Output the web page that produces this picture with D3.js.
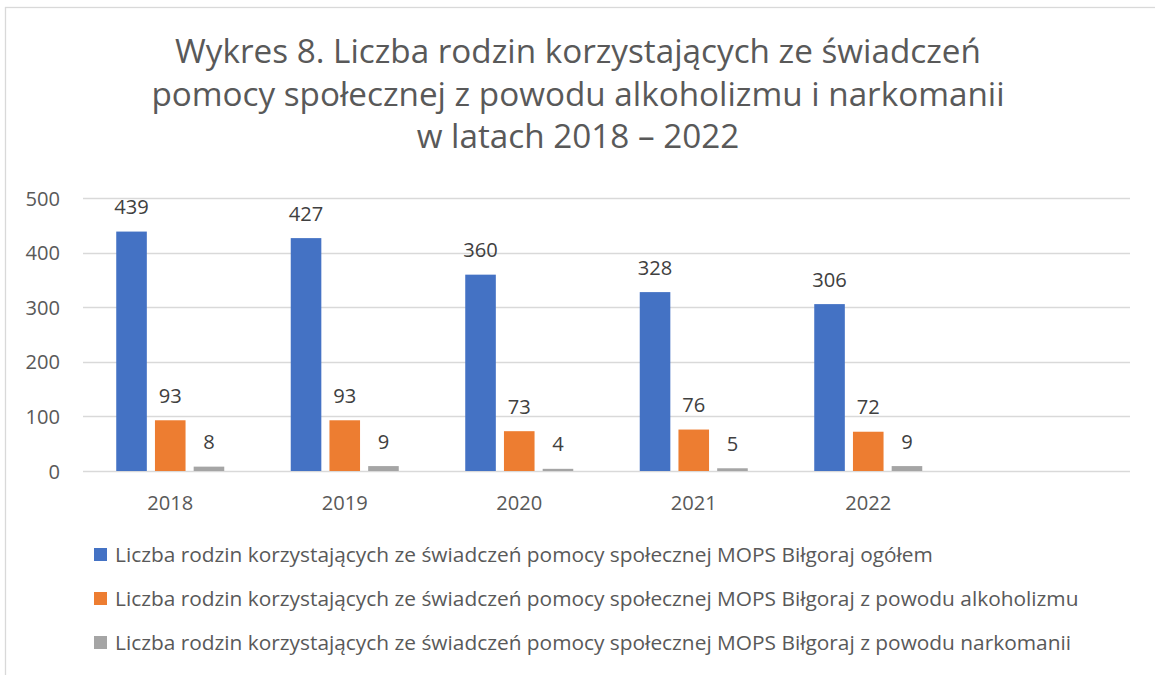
<!DOCTYPE html>
<html><head><meta charset="utf-8">
<script src="https://cdn.jsdelivr.net/npm/d3@7"></script>
<style>
html,body{margin:0;padding:0;background:#fff;}
svg{display:block;}
text{font-family:"Open Sans","Noto Sans",sans-serif;}
</style></head>
<body>
<svg id="chart" width="1155" height="675"></svg>
<script>
const titleLines = ["Wykres 8. Liczba rodzin korzystających ze świadczeń",
  "pomocy społecznej z powodu alkoholizmu i narkomanii",
  "w latach 2018 – 2022"];
const categories = ["2018","2019","2020","2021","2022",""];
const seriesNames = [
  "Liczba rodzin korzystających ze świadczeń pomocy społecznej MOPS Biłgoraj ogółem",
  "Liczba rodzin korzystających ze świadczeń pomocy społecznej MOPS Biłgoraj z powodu alkoholizmu",
  "Liczba rodzin korzystających ze świadczeń pomocy społecznej MOPS Biłgoraj z powodu narkomanii"];
const ogolem = [439,427,360,328,306];
const alkoholizm = [93,93,73,76,72];
const narkomania = [8,9,4,5,9];
const yTicks = [0,100,200,300,400,500];
const colors = ["#4472C4","#ED7D31","#A5A5A5"];

const seriesValues = [ogolem, alkoholizm, narkomania];
const svg = d3.select("#chart");

svg.append("rect").attr("x",5.5).attr("y",7.5).attr("width",1160).attr("height",680)
  .attr("fill","none").attr("stroke","#d9d9d9").attr("stroke-width",1.3);

function fitSize(str, base, target){
  const p = svg.append("text").attr("font-size",base).text(str);
  const w = p.node().getComputedTextLength();
  p.remove();
  return base * target / w;
}
const titleSize = fitSize(titleLines[0], 31, 806);
const legendSize = fitSize(seriesNames[0], 18.5, 818);
const labelSize = fitSize("2018", 18.5, 46);

svg.append("g").selectAll("text").data(titleLines).join("text")
  .attr("x",578).attr("y",(d,i)=>63+i*42.5)
  .attr("text-anchor","middle").attr("font-size",titleSize).attr("fill","#595959")
  .text(d=>d);

const x0 = d3.scaleBand().domain(categories).range([83,1130]);
const y = d3.scaleLinear().domain([0,500]).range([471,198.3]);

svg.append("g").selectAll("line").data(yTicks).join("line")
  .attr("x1",83).attr("x2",1130).attr("y1",d=>Math.round(y(d))+0.5).attr("y2",d=>Math.round(y(d))+0.5)
  .attr("stroke","#d9d9d9").attr("stroke-width",1.3);

const yAxis = svg.append("g").attr("transform","translate(60,0)")
  .call(d3.axisLeft(y).tickValues(yTicks).tickSize(0).tickPadding(0));
yAxis.select(".domain").remove();
yAxis.selectAll("text").attr("font-size",labelSize).attr("fill","#595959")
  .attr("font-family",null).attr("dy","0.35em");

const xAxis = svg.append("g").attr("transform","translate(0,471)")
  .call(d3.axisBottom(x0).tickSize(0).tickPadding(0));
xAxis.select(".domain").remove();
xAxis.selectAll("text").attr("font-size",labelSize).attr("fill","#595959")
  .attr("font-family",null).attr("y",39).attr("dy",0);

const x1 = d3.scaleBand().domain(d3.range(3)).paddingInner(0.21).paddingOuter(0);
const gw = x0.bandwidth()*0.619;
x1.range([0,gw]);

const groups = svg.append("g").selectAll("g").data(categories.slice(0,ogolem.length)).join("g")
  .attr("transform",d=>`translate(${x0(d)+x0.bandwidth()/2-gw/2},0)`);

groups.each(function(cat,ci){
  const g = d3.select(this);
  const vals = seriesValues.map((s,si)=>({si,v:s[ci]}));
  g.selectAll("rect").data(vals).join("rect")
    .attr("x",d=>x1(d.si)).attr("width",x1.bandwidth())
    .attr("y",d=>y(d.v)).attr("height",d=>y(0)-y(d.v))
    .attr("fill",d=>colors[d.si]);
  g.selectAll("text").data(vals).join("text")
    .attr("x",d=>x1(d.si)+x1.bandwidth()/2).attr("y",d=>y(d.v)-17.5)
    .attr("text-anchor","middle").attr("font-size",labelSize).attr("fill","#404040")
    .text(d=>d.v);
});

const leg = svg.append("g").selectAll("g").data(seriesNames).join("g")
  .attr("transform",(d,i)=>`translate(94,${562+i*44})`);
leg.append("rect").attr("x",0).attr("y",-14).attr("width",13).attr("height",13)
  .attr("fill",(d,i)=>colors[i]);
leg.append("text").attr("x",21).attr("y",0).attr("font-size",legendSize).attr("fill","#595959")
  .text(d=>d);
</script>
</body></html>
